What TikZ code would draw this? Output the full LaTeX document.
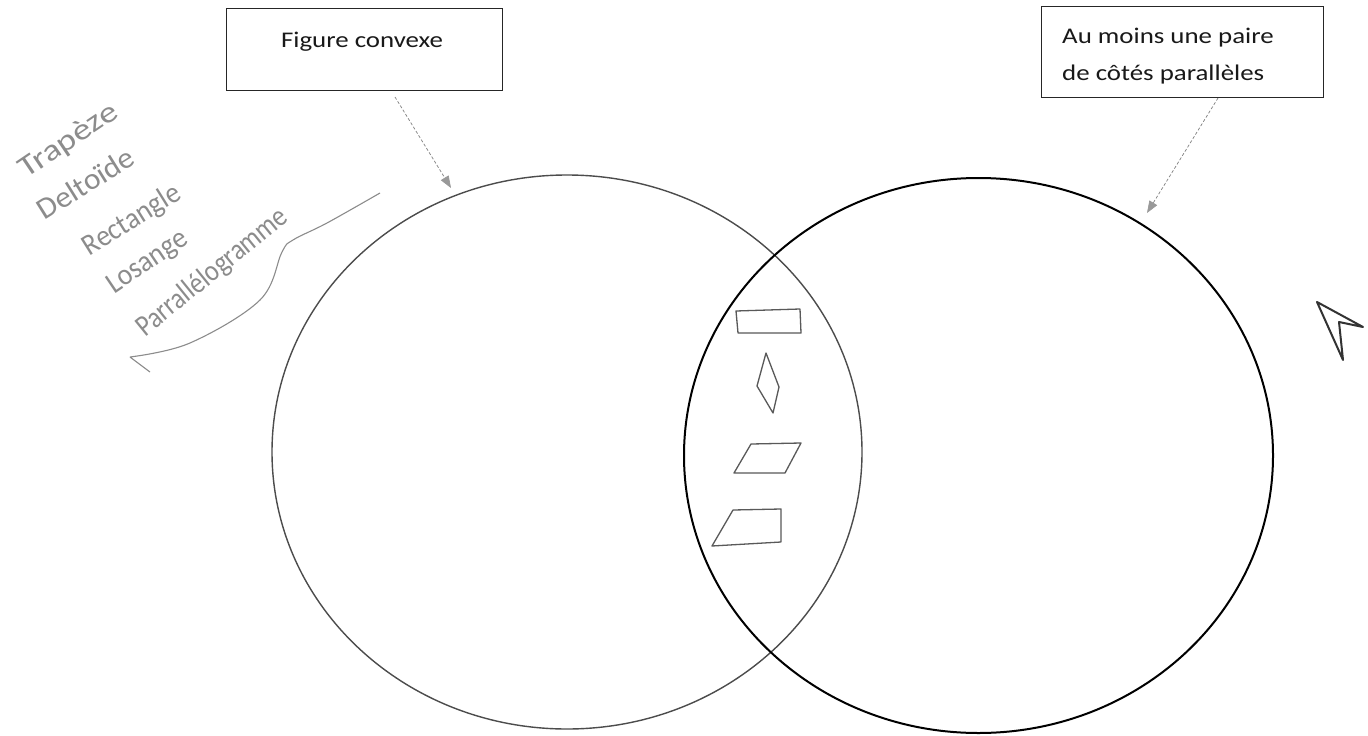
\documentclass[tikz,border=0pt]{standalone}
\usepackage{fontspec}
\setmainfont{Carlito}[FakeStretch=1.2]
\newfontfamily\handfont{Carlito}
\usetikzlibrary{arrows.meta}
\begin{document}
\begin{tikzpicture}[x=1pt,y=-1pt,
  box/.style={draw=black!85, line width=1pt, inner sep=0pt},
  boxtext/.style={font=\fontsize{22.4}{36.7}\selectfont, inner sep=0pt, text=black!90},
  hand/.style={font=\handfont\fontsize{30}{30}\selectfont, text=black!45, inner sep=0pt, anchor=base east},
  ptr/.style={draw=black!50, dash pattern=on 3pt off 2pt, line width=0.7pt, -{Triangle[length=12pt,width=9pt,color=black!40,fill=black!40]}},
  pencil/.style={draw=black!65, line width=1.3pt, line join=round},
]
\fill[white] (0,0) rectangle (1368,736);
\useasboundingbox (0,0) rectangle (1368,736);

% boxes
\node[box, minimum width=276pt, minimum height=82pt] (b1) at (364,49) {};
\node[boxtext, anchor=base] (t1) at (362,47.5) {Figure convexe};
\node[box, minimum width=282pt, minimum height=91pt] (b2) at (1182,51.5) {};
\node[boxtext, anchor=base west] (t2a) at (1062,43) {Au moins une paire};
\node[boxtext, anchor=base west] (t2b) at (1062,80) {de côtés parallèles};

% circles
\draw[black!70, line width=1.4pt] (567,452) ellipse [x radius=295, y radius=277];
\draw[black, line width=2pt] (978.5,455.5) ellipse [x radius=294.5, y radius=277.5];

% pointers
\coordinate (a1s) at (395,97);
\coordinate (a1e) at (451,188);
\coordinate (a2s) at (1218,98);
\coordinate (a2e) at (1147,213);
\draw[ptr] (a1s) -- (a1e);
\draw[ptr] (a2s) -- (a2e);

% handwriting
\node[hand, rotate=34] (h1) at (120,116) {\scalebox{1.2}[1]{Trapèze}};
\node[hand, rotate=32] (h2) at (137,163) {\scalebox{1.05}[1]{Deltoïde}};
\node[hand, rotate=32] (h3) at (183,198) {\scalebox{0.92}[1]{Rectangle}};
\node[hand, rotate=34] (h4) at (190,243) {\scalebox{0.92}[1]{Losange}};
\node[hand, rotate=39] (h5) at (290,220) {\scalebox{0.86}[1]{Parrallélogramme}};
\draw[black!45, line width=1.1pt, line join=round]
  (150,372) -- (130,357)
  plot[smooth, tension=0.6] coordinates {(130,357) (190,343) (260,300) (282,252) (293,240) (327,223) (380,193)};

% shapes in the intersection
\draw[pencil] (736,311) -- (800,309) -- (801,333) -- (738,333) -- cycle;
\draw[pencil] (766,353) -- (757,386) -- (773,413) -- (779,387) -- cycle;
\draw[pencil] (751,444) -- (801,443) -- (785,473) -- (734,473) -- cycle;
\draw[pencil] (733,510) -- (781,509) -- (781,542) -- (712,546) -- cycle;

% cursor
\draw[black!80, line width=2pt, line join=round] (1317,302) -- (1363,327) -- (1339,322) -- (1343,360) -- cycle;
\end{tikzpicture}
\end{document}
